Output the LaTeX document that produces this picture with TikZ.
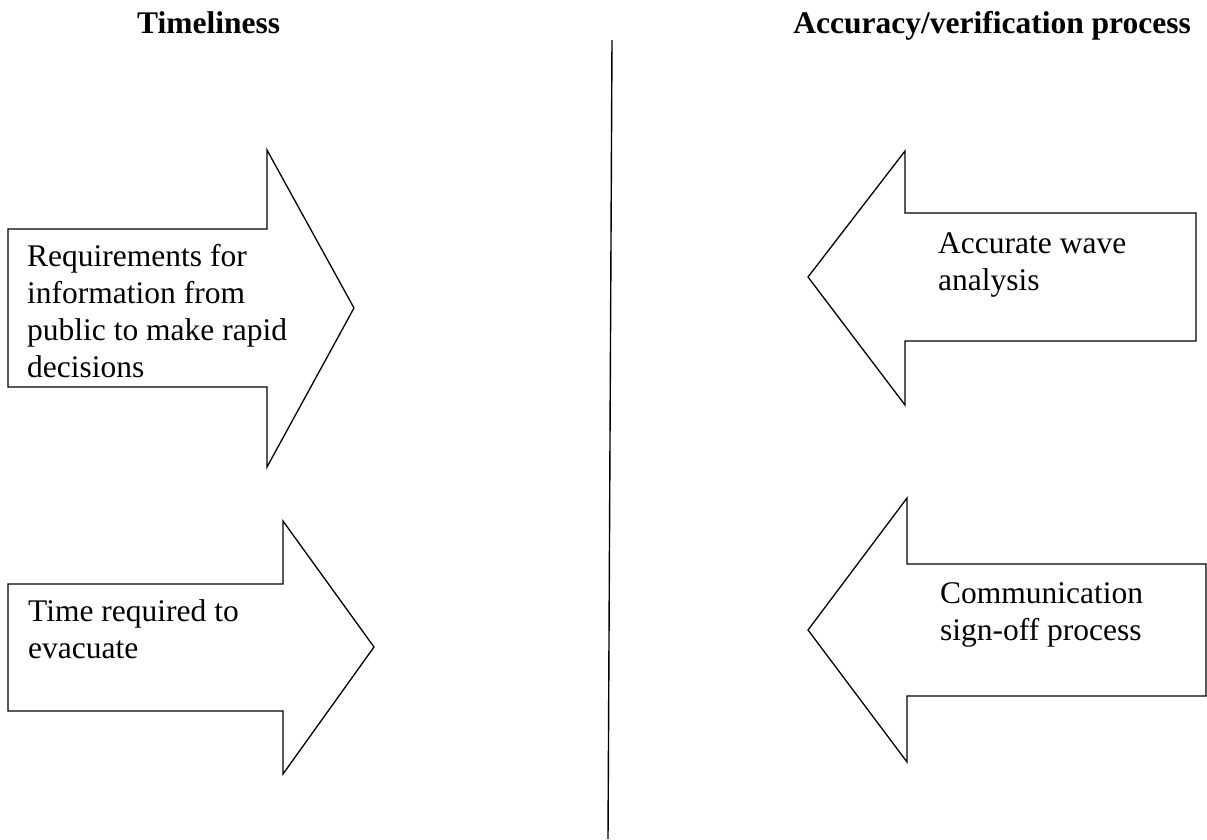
\documentclass[tikz,border=0pt]{standalone}
\usepackage{fontspec}
\setmainfont{Liberation Serif}
\begin{document}
\begin{tikzpicture}[x=1pt,y=-1pt,
  shapearrow/.style={draw=black,line width=1.3pt,fill=white,line join=miter},
  label/.style={align=left,anchor=base west,inner sep=0pt,font=\fontsize{31.5}{36.7}\selectfont},
  title/.style={inner sep=0pt,font=\fontsize{31.5}{36.7}\selectfont\bfseries}]
\useasboundingbox[fill=white] (0,0) rectangle (1207,839);
% titles
\node[title,anchor=base west] (t1) at (137,33) {Timeliness};
\node[title,anchor=base east] (t2) at (1191,33) {Accuracy/verification process};
% divider
\coordinate (dtop) at (612,40);
\coordinate (dbot) at (608,839);
\draw[line width=1.4pt] (dtop) -- (dbot);
% arrows
\draw[shapearrow] (8,229) -- (267,229) -- (267,150) -- (354,308) -- (267,467) -- (267,387) -- (8,387) -- cycle;
\draw[shapearrow] (8,584) -- (283,584) -- (283,521) -- (374,647) -- (283,774) -- (283,711) -- (8,711) -- cycle;
\draw[shapearrow] (808,277) -- (905,151) -- (905,213) -- (1196,213) -- (1196,341) -- (905,341) -- (905,405) -- cycle;
\draw[shapearrow] (808,630) -- (907,498) -- (907,564) -- (1206,564) -- (1206,696) -- (907,696) -- (907,762) -- cycle;
% labels (anchored at the baseline of the last line)
\node[label] (l1) at (27,377) {Requirements for\\information from\\public to make rapid\\decisions};
\node[label] (l2) at (28,658) {Time required to\\evacuate};
\node[label] (l3) at (938,290) {Accurate wave\\analysis};
\node[label] (l4) at (940,640) {Communication\\sign-off process};
\end{tikzpicture}
\end{document}
